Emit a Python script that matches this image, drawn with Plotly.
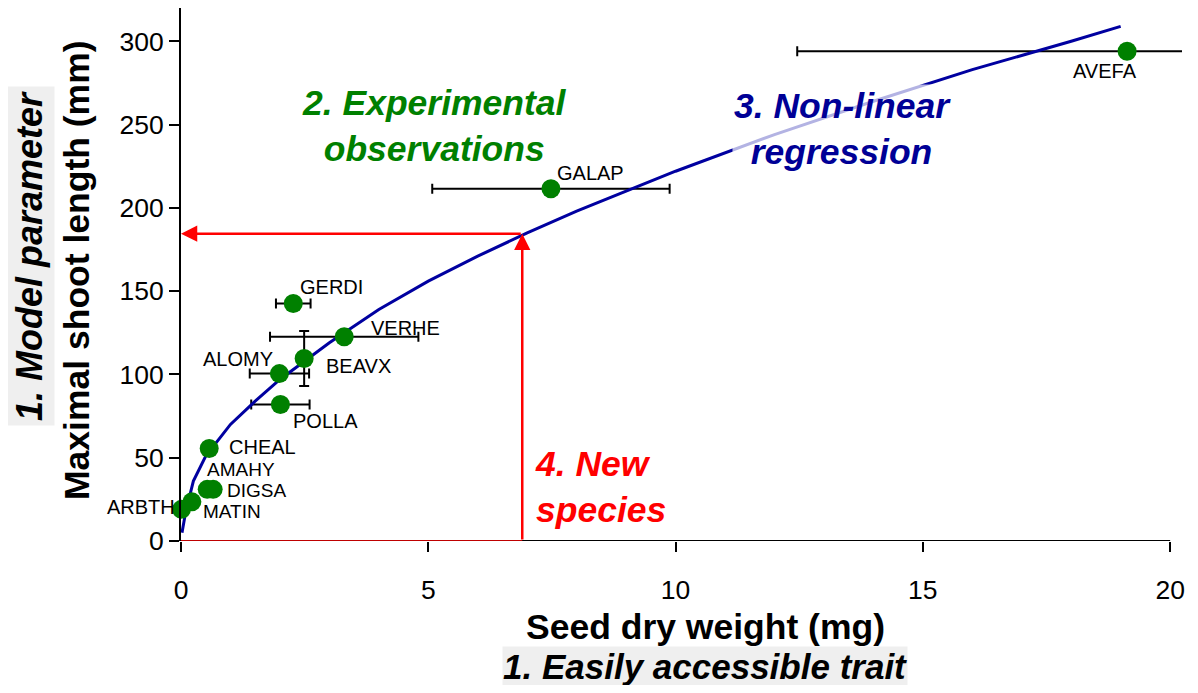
import plotly.graph_objects as go

# ---------------- data ----------------
species = ["ARBTH", "MATIN", "AMAHY", "DIGSA", "CHEAL", "POLLA",
           "ALOMY", "BEAVX", "VERHE", "GERDI", "GALAP", "AVEFA"]
seed_weight = [0.01, 0.22, 0.53, 0.65, 0.57, 2.01, 1.99, 2.49, 3.30, 2.27, 7.48, 19.13]
shoot_length = [19.0, 23.5, 31.0, 31.0, 55.5, 82.0, 100.5, 109.6, 122.6, 142.6, 211.5, 294.0]
seed_weight_err = [0, 0, 0, 0, 0, 0.59, 0.60, 0, 1.50, 0.35, 2.40, 6.67]
shoot_length_err = [0, 0, 0, 0, 0, 0, 0, 16.5, 0, 0, 0, 0]

# fitted non-linear regression curve
fit_x = [0.02, 0.08, 0.15, 0.25, 0.5, 1.0, 1.5, 2.0, 3.0, 4.0, 5.0, 6.0, 7.0,
         8.0, 10.0, 12.0, 14.0, 16.0, 18.0, 19.0]
fit_y = [5, 15, 24, 36, 51, 70, 84, 97, 119, 139, 156, 171, 185,
         198, 222, 244, 264, 283, 300, 309]

new_species_weight = 6.9
new_species_length = 184.5

x_ticks = [0, 5, 10, 15, 20]
y_ticks = [0, 50, 100, 150, 200, 250, 300]

# label offsets in pixels (style only)
label_offsets = {
    "ARBTH": (-40, 2), "MATIN": (40, -10), "AMAHY": (34, 20), "DIGSA": (43, -1),
    "CHEAL": (53, 2), "POLLA": (45, -17), "ALOMY": (-41, 15), "BEAVX": (54, -8),
    "VERHE": (61, 9), "GERDI": (38, 16), "GALAP": (40, 16), "AVEFA": (-22, -20),
}
label_sizes = {"AMAHY": 19, "DIGSA": 19, "MATIN": 19}

FONT = "Liberation Sans, Arial, sans-serif"
GREEN = "#008000"
NAVY = "#000096"
RED = "#FF0000"
BIG = 35.5

fig = go.Figure()

# error bars (clipped at plot area)
fig.add_trace(go.Scatter(
    x=seed_weight, y=shoot_length, mode="markers",
    marker=dict(size=1, color="rgba(0,0,0,0)"),
    error_x=dict(type="data", array=seed_weight_err, color="black", thickness=2, width=5),
    error_y=dict(type="data", array=shoot_length_err, color="black", thickness=2, width=5),
    hoverinfo="skip", showlegend=False,
))

# regression curve
fig.add_trace(go.Scatter(
    x=fit_x, y=fit_y, mode="lines",
    line=dict(color="#0000A0", width=3),
    hoverinfo="skip", showlegend=False,
))

# observation points
fig.add_trace(go.Scatter(
    x=seed_weight, y=shoot_length, mode="markers",
    marker=dict(size=19, color=GREEN),
    cliponaxis=False, showlegend=False, text=species,
))

annotations = []
for sp, xv, yv in zip(species, seed_weight, shoot_length):
    dx, dy = label_offsets[sp]
    annotations.append(dict(
        x=xv, y=yv, xref="x", yref="y", text=sp, showarrow=False,
        xshift=dx, yshift=dy,
        font=dict(family=FONT, size=label_sizes.get(sp, 20), color="black"),
    ))

# red arrows for the new species
annotations.append(dict(
    x=new_species_weight, y=new_species_length, ax=new_species_weight, ay=0,
    xref="x", yref="y", axref="x", ayref="y", text="", showarrow=True,
    arrowcolor=RED, arrowwidth=2.5, arrowhead=2, arrowsize=1.3, standoff=0,
))
annotations.append(dict(
    x=0, y=new_species_length, ax=new_species_weight, ay=new_species_length,
    xref="x", yref="y", axref="x", ayref="y", text="", showarrow=True,
    arrowcolor=RED, arrowwidth=2.5, arrowhead=2, arrowsize=1.3, standoff=0,
))

# story texts
annotations.append(dict(
    x=5.12, y=249.2, xref="x", yref="y", showarrow=False,
    text="<b><i>2. Experimental<br>observations</i></b>",
    font=dict(family=FONT, size=BIG, color=GREEN),
))
annotations.append(dict(
    x=13.38, y=247.5, xref="x", yref="y", showarrow=False,
    text="<b><i>3. Non-linear<br>regression</i></b>",
    bgcolor="rgba(255,255,255,0.7)",
    font=dict(family=FONT, size=BIG, color=NAVY),
))
annotations.append(dict(
    x=7.12, y=32.4, xref="x", yref="y", showarrow=False, xanchor="left", align="left",
    text="<b><i>4. New<br>species</i></b>",
    font=dict(family=FONT, size=BIG, color=RED),
))

# page body has an 8px margin; geometry below is in page pixels
OFF = 8
W, H = 1198 - 2 * OFF, 693 - 2 * OFF
PL, PR, PT, PB = 181, 1182, 8, 541          # plot area in page pixels
L, R, T, B = PL - OFF, (OFF + W) - PR, PT - OFF, (OFF + H) - PB
pw, ph = PR - PL, PB - PT

def px(xp):
    return (xp - PL) / pw

def py(yp):
    return (PB - yp) / ph

annotations.append(dict(
    x=px(705), y=py(627), xref="paper", yref="paper", showarrow=False,
    xanchor="center", yanchor="middle",
    text="<b>Seed dry weight (mg)</b>",
    font=dict(family=FONT, size=BIG, color="black"),
))
annotations.append(dict(
    x=px(705), y=py(666), xref="paper", yref="paper", showarrow=False,
    xanchor="center", yanchor="middle",
    text="<b><i>1. Easily accessible trait</i></b>", bgcolor="#EFEFEF",
    borderpad=0,
    font=dict(family=FONT, size=35, color="black"),
))
annotations.append(dict(
    x=px(77), y=py(270), xref="paper", yref="paper", showarrow=False,
    xanchor="center", yanchor="middle",
    text="<b>Maximal shoot length (mm)</b>", textangle=-90,
    font=dict(family=FONT, size=BIG, color="black"),
))
annotations.append(dict(
    x=px(29), y=py(256), xref="paper", yref="paper", showarrow=False,
    xanchor="center", yanchor="middle",
    text="<b><i>1. Model parameter</i></b>", textangle=-90, bgcolor="#EFEFEF",
    borderpad=4,
    font=dict(family=FONT, size=36, color="black"),
))

shapes = [
    dict(type="line", xref="x", yref="y", x0=0, x1=20, y0=0, y1=0,
         line=dict(color="black", width=2), layer="above"),
    dict(type="line", xref="x", yref="y", x0=0, x1=new_species_weight, y0=0, y1=0,
         line=dict(color=RED, width=1.5), layer="above"),
]

fig.update_layout(
    width=W, height=H,
    margin=dict(l=L, r=R, t=T, b=B, pad=0),
    plot_bgcolor="white", paper_bgcolor="white",
    font=dict(family=FONT, color="black"),
    annotations=annotations, shapes=shapes, showlegend=False,
    xaxis=dict(range=[0, 20.24], tickvals=x_ticks, ticktext=[str(v) for v in x_ticks],
               showline=False, showgrid=False, zeroline=False,
               ticks="outside", ticklen=10, tickwidth=2, tickcolor="black",
               tickfont=dict(family=FONT, size=26.5, color="black"),
               ticklabelstandoff=15),
    yaxis=dict(range=[0, 320], tickvals=y_ticks, ticktext=[str(v) for v in y_ticks],
               showline=True, linecolor="black", linewidth=2,
               showgrid=False, zeroline=False,
               ticks="outside", ticklen=10, tickwidth=2, tickcolor="black",
               tickfont=dict(family=FONT, size=26.5, color="black")),
)

fig.write_html("out.html")
